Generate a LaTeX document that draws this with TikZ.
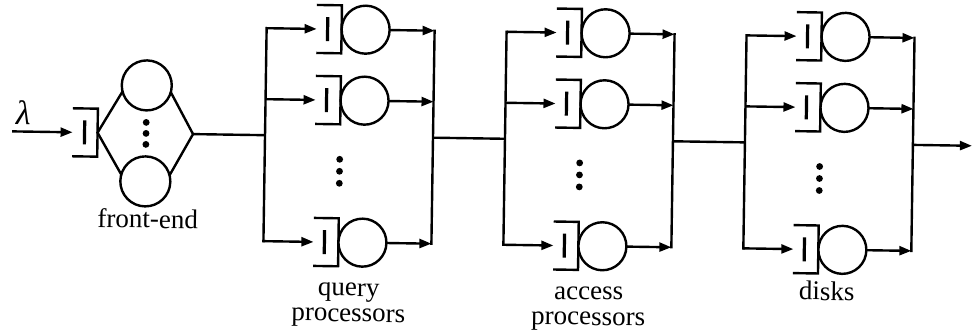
\documentclass[tikz,border=0pt]{standalone}
\usepackage{fontspec}
\setmainfont{Liberation Serif}
\usetikzlibrary{arrows.meta,calc}
\begin{document}
\begin{tikzpicture}[x=1pt,y=-1pt,
  wire/.style={line width=2.4pt},
  arr/.style={wire,-{Triangle[length=12pt,width=9pt]}},
  qbox/.style={draw=none,minimum width=25pt,minimum height=48pt,inner sep=0pt,outer sep=0pt},
  qline/.style={line width=2.4pt},
  qbar/.style={line width=3.2pt},
  srv/.style={circle,draw,line width=2.4pt,minimum size=48pt,inner sep=0pt,outer sep=0pt,fill=white},
  fesrv/.style={srv,minimum size=50pt},
  lbl/.style={font=\fontsize{27}{32}\selectfont,inner sep=0pt,anchor=base},
]
\useasboundingbox (0,0) rectangle (973,331);
\begin{scope}[rotate around={-0.86:(486,138.5)}, transform shape]
  % front-end: queue feeding a bank of servers
  \node[qbox] (fe-q) at (85,138.5) {};
  \draw[qline] (fe-q.north west) -- (fe-q.north east) -- (fe-q.south east) -- (fe-q.south west);
  \draw[qbar] ($(fe-q.west)!0.48!(fe-q.east)$) ++(0,-12) -- ++(0,24);
  \node[fesrv] (fe-s1) at (146,90.5) {};
  \node[fesrv] (fe-s2) at (146,186.5) {};
  \coordinate (fe-out) at (193,138.5);
  \draw[wire] (fe-s1.195) -- (fe-q.east) -- (fe-s2.165);
  \draw[wire] (fe-s1.-15) -- (fe-out) -- (fe-s2.15);
  \foreach \y in {127.5,138.5,149.5} \fill (146,\y) circle[radius=3.4pt];
  \node[lbl] (fe-lbl) at (149,233) {front-end};

  % arrival stream
  \coordinate (src) at (12,138.5);
  \draw[arr] (src) -- (fe-q.west);
  \node[inner sep=0pt,font=\fontsize{34}{40}\selectfont\itshape] (lam) at (23,119.5) {λ};

  % three parallel stages
  \foreach \st/\L in {qp/265,ap/505,dk/745}{
    \coordinate (\st-in) at (\L,138.5);
    \coordinate (\st-out) at (\L+168,138.5);
    \foreach \r/\y in {1/31.5,2/102.5,3/244.5}{
      \coordinate (\st-b\r) at (\L,\y);
      \coordinate (\st-c\r) at (\L+168,\y);
      \node[qbox] (\st-q\r) at (\L+62.5,\y) {};
      \draw[qline] (\st-q\r.north west) -- (\st-q\r.north east) -- (\st-q\r.south east) -- (\st-q\r.south west);
      \draw[qbar] ($(\st-q\r.west)!0.44!(\st-q\r.east)$) ++(0,-12) -- ++(0,24);
      \node[srv] (\st-s\r) at (\L+99,\y) {};
      \draw[arr] (\st-b\r) -- (\st-q\r.west);
      \draw[arr] (\st-s\r.east) -- (\st-c\r);
    }
    \draw[wire,line cap=rect] (\st-b1) -- (\st-b3);
    \draw[wire,line cap=rect] (\st-c1) -- (\st-c3);
    \foreach \y in {161.5,173.5,185.5} \fill (\L+75,\y) circle[radius=3.4pt];
  }

  % links between stages
  \draw[wire] (fe-out) -- (qp-in);
  \draw[wire] (qp-out) -- (ap-in);
  \draw[wire] (ap-out) -- (dk-in);
  \coordinate (sink) at (972,138.5);
  \draw[arr] (dk-out) -- (sink);

  % stage labels
  \node[lbl] (qp-l1) at (351,298) {query};
  \node[lbl] (qp-l2) at (351,323.5) {processors};
  \node[lbl] (ap-l1) at (591,298) {access};
  \node[lbl] (ap-l2) at (591,323.5) {processors};
  \node[lbl] (dk-l) at (829,295) {disks};
\end{scope}
\end{tikzpicture}
\end{document}
